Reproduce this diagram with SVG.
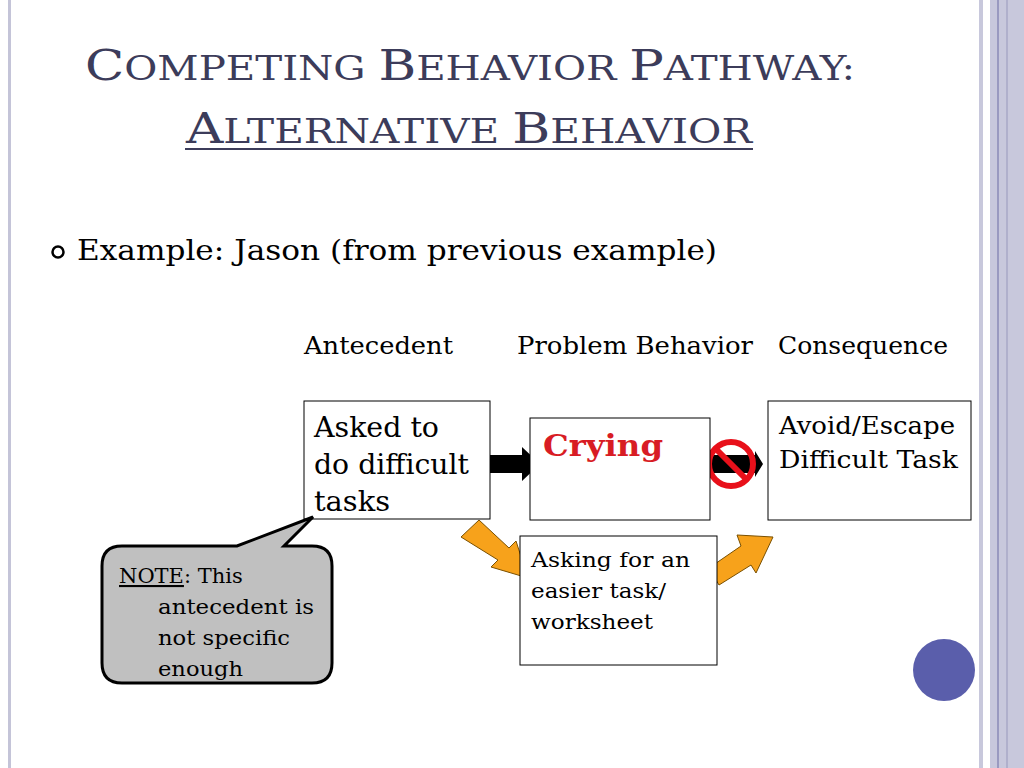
<svg xmlns="http://www.w3.org/2000/svg" width="1024" height="768" viewBox="0 0 1024 768">
<style>
.t{font-family:"DejaVu Serif","Liberation Serif",serif;fill:#000}
.ti{font-family:"DejaVu Serif","Liberation Serif",serif;fill:#3c3c5a}
.box{fill:#fff;stroke:#000;stroke-width:1}
.or{fill:#f7a21b;stroke:#7a5000;stroke-width:1}
</style>
<rect width="1024" height="768" fill="#fff"/>
<rect x="8" y="0" width="3" height="768" fill="#c4c4d8"/>
<rect x="979" y="0" width="4" height="768" fill="#c8c8dc"/>
<rect x="990" y="0" width="34" height="768" fill="#c8c8dc"/>
<rect x="997" y="0" width="2" height="768" fill="#9a9ac0"/>
<rect x="1006" y="0" width="2" height="768" fill="#b0b0cc"/>
<text class="ti" x="85" y="80" font-size="42" textLength="770" lengthAdjust="spacingAndGlyphs">C<tspan font-size="33">OMPETING </tspan>B<tspan font-size="33">EHAVIOR </tspan>P<tspan font-size="33">ATHWAY:</tspan></text>
<text class="ti" x="186" y="143" font-size="42" textLength="566" lengthAdjust="spacingAndGlyphs">A<tspan font-size="33">LTERNATIVE </tspan>B<tspan font-size="33">EHAVIOR</tspan></text>
<line x1="185" y1="149" x2="753" y2="149" stroke="#3c3c5a" stroke-width="2"/>
<circle cx="58" cy="252" r="5.5" fill="none" stroke="#000" stroke-width="2.5"/>
<text class="t" x="77" y="260" font-size="28" textLength="640" lengthAdjust="spacingAndGlyphs">Example: Jason (from previous example)</text>
<text class="t" x="304" y="354" font-size="24" textLength="149" lengthAdjust="spacingAndGlyphs">Antecedent</text>
<text class="t" x="517" y="354" font-size="24" textLength="236" lengthAdjust="spacingAndGlyphs">Problem Behavior</text>
<text class="t" x="778" y="354" font-size="24" textLength="170" lengthAdjust="spacingAndGlyphs">Consequence</text>
<g id="connectors">
<polygon points="485,455 522,455 522,447 540,464 522,481 522,473 485,473" fill="#000"/>
<polygon points="712,455 755,455 755,451 763,464 755,477 755,473 712,473" fill="#000"/>
<polygon class="or" points="461,537 479,520 509,548 516,541 528,578 491,567 498,560"/>
<polygon class="or" points="709,568 719,585 751,565 756,573 773,537 737,535 741,546"/>
</g>
<g id="nosign">
<circle cx="731" cy="464" r="22" fill="none" stroke="#e8101a" stroke-width="6"/>
<line x1="716" y1="449" x2="746" y2="479" stroke="#e8101a" stroke-width="6"/>
</g>
<g id="antecedent">
<rect class="box" x="304" y="401" width="186" height="118"/>
<text class="t" font-size="27"><tspan x="314" y="437" textLength="125" lengthAdjust="spacingAndGlyphs">Asked to</tspan><tspan x="314" y="474" textLength="155" lengthAdjust="spacingAndGlyphs">do difficult</tspan><tspan x="314" y="511" textLength="76" lengthAdjust="spacingAndGlyphs">tasks</tspan></text>
</g>
<g id="behavior">
<rect class="box" x="530" y="418" width="180" height="102"/>
<text class="t" x="543" y="456" font-size="29" font-weight="bold" style="fill:#d81c24" textLength="120" lengthAdjust="spacingAndGlyphs">Crying</text>
</g>
<g id="consequence">
<rect class="box" x="768" y="401" width="203" height="119"/>
<text class="t" font-size="25"><tspan x="779" y="434" textLength="176" lengthAdjust="spacingAndGlyphs">Avoid/Escape</tspan><tspan x="779" y="468" textLength="179" lengthAdjust="spacingAndGlyphs">Difficult Task</tspan></text>
</g>
<g id="alternative">
<rect class="box" x="520" y="536" width="197" height="129"/>
<text class="t" font-size="21"><tspan x="531" y="567" textLength="159" lengthAdjust="spacingAndGlyphs">Asking for an</tspan><tspan x="531" y="598" textLength="135" lengthAdjust="spacingAndGlyphs">easier task/</tspan><tspan x="531" y="629" textLength="122" lengthAdjust="spacingAndGlyphs">worksheet</tspan></text>
</g>
<g id="note">
<path d="M122,546 H237 L313,517 L284,546 H312 Q332,546 332,566 V663 Q332,683 312,683 H122 Q102,683 102,663 V566 Q102,546 122,546 Z" fill="#c0c0c0" stroke="#000" stroke-width="3"/>
<text class="t" font-size="21"><tspan x="119" y="583" text-decoration="underline">NOTE</tspan><tspan>: This</tspan><tspan x="158" y="614" textLength="156" lengthAdjust="spacingAndGlyphs">antecedent is</tspan><tspan x="158" y="645" textLength="132" lengthAdjust="spacingAndGlyphs">not specific</tspan><tspan x="158" y="676" textLength="85" lengthAdjust="spacingAndGlyphs">enough</tspan></text>
</g>
<circle cx="944" cy="670" r="31" fill="#5a5eab"/>
</svg>
